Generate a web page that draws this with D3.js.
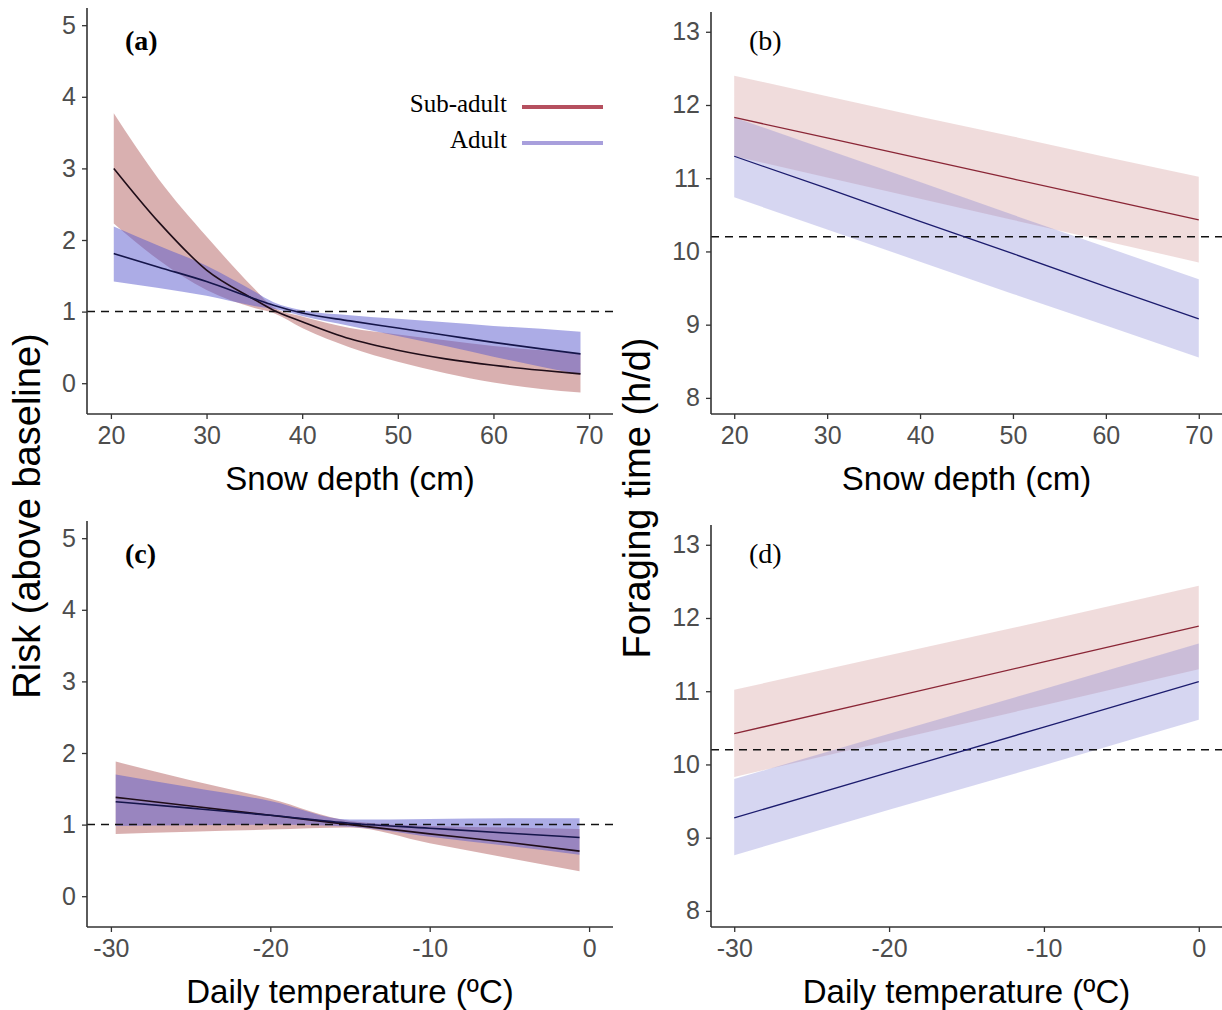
<!DOCTYPE html>
<html>
<head>
<meta charset="utf-8">
<script src="https://cdn.jsdelivr.net/npm/d3@7"></script>
<style>
  body { margin: 0; background: #fff; }
  text { font-family: "Liberation Sans", Arial, sans-serif; }
</style>
</head>
<body>
<svg id="chart" width="1222" height="1010"></svg>
<script>
// ---- panel (a): risk vs snow depth ----
const snowA = [20.3, 25, 30, 35, 37, 40, 45, 50, 55, 60, 65, 69.1]
const subA_mean = [3.0, 2.25, 1.58, 1.17, 1.02, 0.86, 0.62, 0.46, 0.34, 0.25, 0.18, 0.13]
const subA_hi = [3.77, 2.85, 2.05, 1.32, 1.06, 0.93, 0.77, 0.68, 0.6, 0.52, 0.46, 0.41]
const subA_lo = [2.23, 1.72, 1.3, 1.05, 0.98, 0.77, 0.5, 0.3, 0.14, 0.01, -0.08, -0.13]
const adA_mean = [1.81, 1.62, 1.42, 1.18, 1.09, 0.98, 0.87, 0.77, 0.67, 0.57, 0.48, 0.41]
const adA_hi = [2.19, 1.92, 1.64, 1.28, 1.13, 1.02, 0.95, 0.9, 0.85, 0.8, 0.76, 0.72]
const adA_lo = [1.42, 1.33, 1.22, 1.08, 1.04, 0.94, 0.8, 0.66, 0.52, 0.37, 0.23, 0.12]

// ---- panel (b): foraging time vs snow depth ----
const snowB = [20, 30, 40, 50, 60, 70]
const subB_mean = [11.83, 11.55, 11.27, 10.99, 10.71, 10.43]
const subB_hi = [12.40, 12.12, 11.84, 11.57, 11.29, 11.02]
const subB_lo = [11.30, 11.01, 10.72, 10.43, 10.14, 9.85]
const adB_mean = [11.30, 10.86, 10.41, 9.97, 9.52, 9.08]
const adB_hi = [11.83, 11.39, 10.95, 10.50, 10.06, 9.62]
const adB_lo = [10.74, 10.30, 9.86, 9.42, 8.99, 8.55]

// ---- panel (c): risk vs temperature ----
const tempC = [-29.7, -25, -20, -15, -10, -5, -0.6]
const subC_mean = [1.38, 1.26, 1.13, 1.0, 0.87, 0.75, 0.63]
const subC_hi = [1.88, 1.62, 1.36, 1.05, 0.98, 0.96, 0.94]
const subC_lo = [0.87, 0.9, 0.93, 0.96, 0.74, 0.53, 0.35]
const adC_mean = [1.32, 1.23, 1.13, 1.02, 0.95, 0.88, 0.82]
const adC_hi = [1.70, 1.52, 1.33, 1.07, 1.08, 1.09, 1.09]
const adC_lo = [0.98, 0.99, 1.0, 0.97, 0.83, 0.70, 0.58]

// ---- panel (d): foraging time vs temperature ----
const tempD = [-30, -20, -10, 0]
const subD_mean = [10.42, 10.91, 11.40, 11.89]
const subD_hi = [11.02, 11.49, 11.96, 12.44]
const subD_lo = [9.83, 10.32, 10.81, 11.30]
const adD_mean = [9.27, 9.89, 10.51, 11.13]
const adD_hi = [9.80, 10.42, 11.03, 11.65]
const adD_lo = [8.76, 9.38, 9.99, 10.61]

const snowTicks = [20, 30, 40, 50, 60, 70]
const tempTicks = [-30, -20, -10, 0]
const riskTicks = [0, 1, 2, 3, 4, 5]
const timeTicks = [8, 9, 10, 11, 12, 13]
const groups = ['Sub-adult', 'Adult']

const svg = d3.select('#chart')

function rows (xs, mean, lo, hi) {
  return xs.map((x, i) => ({ x, m: mean[i], lo: lo[i], hi: hi[i] }))
}

function panel (o) {
  const x = d3.scaleLinear().domain(o.xDomain).range([o.left, o.right])
  const y = d3.scaleLinear().domain(o.yDomain).range([o.bottom, o.top])
  const g = svg.append('g')

  const area = d3.area().curve(o.curve)
    .x(d => x(d.x)).y0(d => y(d.lo)).y1(d => y(d.hi))
  const line = d3.line().curve(o.curve)
    .x(d => x(d.x)).y(d => y(d.m))

  o.series.forEach(s => {
    g.append('path').attr('d', area(s.data)).attr('fill', s.fill)
  })

  // baseline
  g.append('line')
    .attr('x1', o.left).attr('x2', o.right)
    .attr('y1', y(o.baseline)).attr('y2', y(o.baseline))
    .attr('stroke', '#111').attr('stroke-width', 1.5)
    .attr('stroke-dasharray', '8,6')

  o.series.forEach(s => {
    g.append('path').attr('d', line(s.data))
      .attr('fill', 'none').attr('stroke', s.stroke).attr('stroke-width', o.lw)
  })

  const xAxis = g.append('g')
    .attr('transform', `translate(0,${o.bottom})`)
    .call(d3.axisBottom(x).tickValues(o.xTicks).tickFormat(d => String(d)).tickSize(5).tickPadding(7))
  const yAxis = g.append('g')
    .attr('transform', `translate(${o.left},0)`)
    .call(d3.axisLeft(y).tickValues(o.yTicks).tickFormat(d => String(d)).tickSize(5).tickPadding(6))

  ;[xAxis, yAxis].forEach(a => {
    a.select('.domain').attr('stroke', '#333').attr('stroke-width', 1.6)
    a.selectAll('.tick line').attr('stroke', '#333').attr('stroke-width', 1.3)
    a.selectAll('.tick text')
      .attr('fill', '#4d4d4d')
      .style('font-size', '25px')
      .style('font-family', '"Liberation Sans", Arial, sans-serif')
  })
  // the axes should end exactly at the panel edges
  xAxis.select('.domain').attr('d', `M${o.left},0H${o.right}`)
  yAxis.select('.domain').attr('d', `M0,${o.top}V${o.bottom}`)

  g.append('text')
    .attr('x', o.left + 38).attr('y', o.top + (o.bold ? 42 : 38))
    .style('font-family', '"Liberation Serif", "Times New Roman", serif')
    .style('font-size', '28px')
    .style('font-weight', o.bold ? 'bold' : 'normal')
    .text(o.tag)

  g.append('text')
    .attr('x', (o.left + o.right) / 2).attr('y', o.bottom + 76)
    .attr('text-anchor', 'middle')
    .style('font-size', '33px')
    .text(o.xTitle)

  return { x, y, g }
}

const darkFill = ['rgba(170,80,80,0.45)', 'rgba(90,90,205,0.5)']
const lightFill = ['rgba(200,130,130,0.28)', 'rgba(120,120,210,0.3)']

panel({
  xDomain: [17.5, 72.5], yDomain: [-0.43, 5.24],
  left: 87, right: 613, top: 8, bottom: 414,
  xTicks: snowTicks, yTicks: riskTicks, baseline: 1,
  curve: d3.curveMonotoneX, lw: 1.6, tag: '(a)', bold: true,
  xTitle: 'Snow depth (cm)',
  series: [
    { data: rows(snowA, subA_mean, subA_lo, subA_hi), fill: darkFill[0], stroke: '#1f0d18' },
    { data: rows(snowA, adA_mean, adA_lo, adA_hi), fill: darkFill[1], stroke: '#15154a' }
  ]
})

panel({
  xDomain: [17.5, 72.5], yDomain: [7.78, 13.27],
  left: 711, right: 1222, top: 12, bottom: 414,
  xTicks: snowTicks, yTicks: timeTicks, baseline: 10.2,
  curve: d3.curveLinear, lw: 1.3, tag: '(b)', bold: false,
  xTitle: 'Snow depth (cm)',
  series: [
    { data: rows(snowB, subB_mean, subB_lo, subB_hi), fill: lightFill[0], stroke: '#8a2636' },
    { data: rows(snowB, adB_mean, adB_lo, adB_hi), fill: lightFill[1], stroke: '#1c1c6e' }
  ]
})

panel({
  xDomain: [-31.5, 1.5], yDomain: [-0.43, 5.24],
  left: 87, right: 613, top: 521, bottom: 927,
  xTicks: tempTicks, yTicks: riskTicks, baseline: 1,
  curve: d3.curveMonotoneX, lw: 1.6, tag: '(c)', bold: true,
  xTitle: 'Daily temperature (ºC)',
  series: [
    { data: rows(tempC, subC_mean, subC_lo, subC_hi), fill: darkFill[0], stroke: '#1f0d18' },
    { data: rows(tempC, adC_mean, adC_lo, adC_hi), fill: darkFill[1], stroke: '#15154a' }
  ]
})

panel({
  xDomain: [-31.5, 1.5], yDomain: [7.78, 13.27],
  left: 711, right: 1222, top: 525, bottom: 927,
  xTicks: tempTicks, yTicks: timeTicks, baseline: 10.2,
  curve: d3.curveLinear, lw: 1.3, tag: '(d)', bold: false,
  xTitle: 'Daily temperature (ºC)',
  series: [
    { data: rows(tempD, subD_mean, subD_lo, subD_hi), fill: lightFill[0], stroke: '#8a2636' },
    { data: rows(tempD, adD_mean, adD_lo, adD_hi), fill: lightFill[1], stroke: '#1c1c6e' }
  ]
})

// shared y titles
svg.append('text')
  .attr('transform', 'translate(40,516) rotate(-90)')
  .attr('text-anchor', 'middle')
  .style('font-size', '38px')
  .text('Risk (above baseline)')

svg.append('text')
  .attr('transform', 'translate(650,498) rotate(-90)')
  .attr('text-anchor', 'middle')
  .style('font-size', '38px')
  .text('Foraging time (h/d)')

// legend in panel (a)
const legColors = ['#b5505f', '#a89fdc']
const leg = svg.append('g')
groups.forEach((name, i) => {
  const yy = 107 + i * 36
  leg.append('text')
    .attr('x', 507).attr('y', yy + 5)
    .attr('text-anchor', 'end')
    .style('font-family', '"Liberation Serif", "Times New Roman", serif')
    .style('font-size', '25px')
    .text(name)
  leg.append('line')
    .attr('x1', 522).attr('x2', 603).attr('y1', yy).attr('y2', yy)
    .attr('stroke', legColors[i]).attr('stroke-width', 4)
})
</script>
</body>
</html>
